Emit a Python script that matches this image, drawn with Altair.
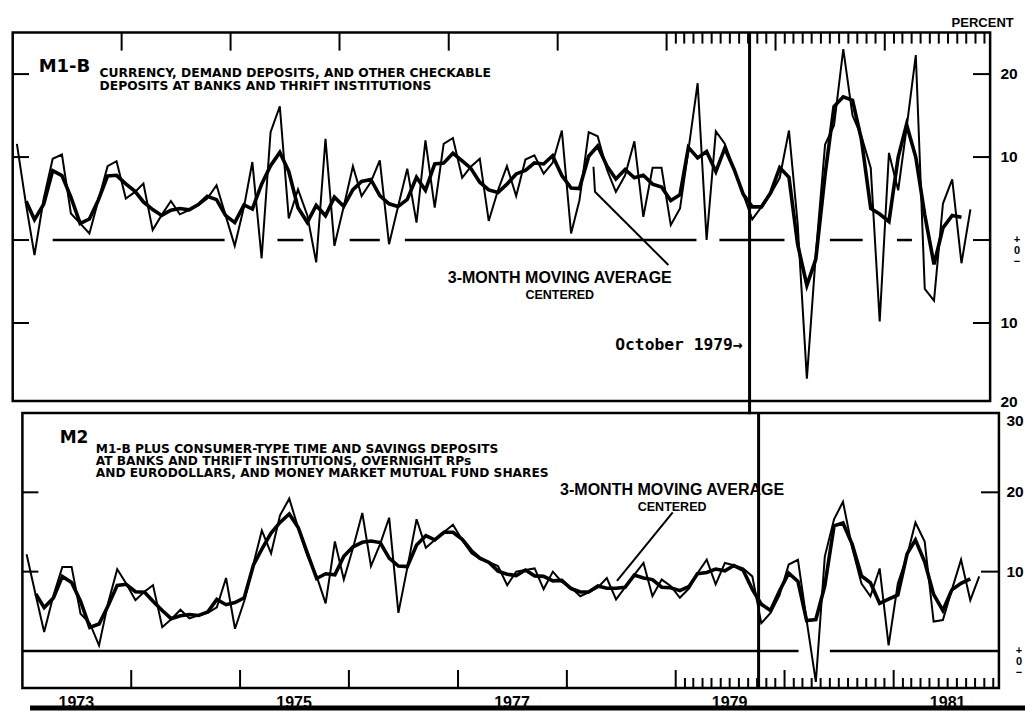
import altair as alt
import pandas as pd

# ------------------------------------------------------------------ data
# Monthly growth rates, annual rate, percent (Jan 1973 .. Oct 1981)
m1b_values = [11.6, 4.2, -1.8, 5.0, 9.8, 10.3, 3.2, 2.0, 0.8, 4.8,
              8.9, 9.5, 5.0, 5.8, 6.8, 1.2, 3.0, 4.7, 3.1, 3.6,
              4.2, 5.0, 6.6, 3.0, -0.7, 4.0, 9.4, -2.2, 13.0, 16.1,
              2.6, 6.1, 3.0, -2.7, 12.2, -0.7, 4.0, 8.9, 5.3, 7.0,
              9.6, -0.5, 4.0, 8.6, 2.1, 12.0, 3.9, 11.6, 12.3, 7.5,
              8.8, 9.8, 2.3, 6.0, 8.9, 5.3, 9.7, 10.2, 8.0, 9.3,
              13.2, 0.8, 4.8, 13.0, 12.5, 8.5, 5.8, 7.8, 11.9, 2.8,
              8.7, 8.7, 1.8, 3.8, 10.8, 18.9, 0.0, 13.1, 11.6, 8.5,
              5.5, 2.5, 4.0, 5.5, 7.5, 13.2, 2.0, -16.7, -1.7, 11.5,
              13.8, 23.0, 15.0, 12.5, 8.7, -9.8, 10.5, 6.0, 13.5, 22.3,
              -5.9, -7.3, 4.4, 7.3, -2.8, 3.7]

m2_values = [12.2, 7.0, 2.4, 7.0, 10.6, 10.6, 4.7, 3.5, 0.7, 6.0,
             10.3, 8.5, 6.4, 7.5, 8.3, 3.0, 4.0, 5.2, 4.1, 4.5,
             4.8, 5.5, 9.2, 2.8, 6.3, 11.0, 15.2, 12.3, 17.1, 19.2,
             15.5, 12.0, 9.4, 6.0, 13.8, 9.0, 13.0, 17.4, 10.7, 13.5,
             16.8, 4.8, 10.5, 16.6, 13.0, 14.0, 15.0, 15.9, 14.0, 12.3,
             11.6, 11.2, 10.7, 8.3, 10.0, 10.2, 10.4, 7.8, 10.0, 8.7,
             8.0, 6.9, 7.4, 8.0, 9.2, 6.5, 8.0, 9.6, 11.1, 6.9,
             9.0, 8.2, 6.7, 7.9, 9.8, 11.5, 8.4, 11.1, 10.8, 10.4,
             9.4, 3.5, 4.8, 7.0, 10.9, 11.5, 3.9, -3.9, 11.9, 16.6,
             18.8, 13.0, 8.5, 6.9, 10.4, 0.7, 8.5, 12.0, 16.2, 13.8,
             3.7, 3.9, 7.7, 11.5, 6.4, 9.4]

first_month = "1973-01-01"
month_dates = (pd.date_range(first_month, periods=len(m1b_values), freq="MS")
               + pd.Timedelta(days=14)).strftime("%Y-%m-%d").tolist()

october_1979 = "1979-10-06"

top_zero_segments = [("1973-05-15", "1974-12-12"), ("1975-06-07", "1975-09-02"),
                     ("1976-02-04", "1976-05-15"), ("1976-08-07", "1979-04-11"),
                     ("1979-06-27", "1980-01-31"), ("1980-07-01", "1980-10-19"),
                     ("1981-02-11", "1981-04-02")]
bottom_zero_segments = [("1973-01-01", "1980-02-17"), ("1980-06-01", "1981-12-20")]

year_boundaries = ["1974-01-01", "1975-01-01", "1976-01-01", "1977-01-01", "1978-01-01",
                   "1979-01-01", "1980-01-01", "1981-01-01"]
month_boundaries = pd.date_range("1979-01-01", "1981-12-01", freq="MS").strftime("%Y-%m-%d").tolist()
month_boundaries = [d for d in month_boundaries if d not in year_boundaries]

year_labels = ["1973", "1975", "1977", "1979", "1981"]
year_label_dates = ["1973-07-01", "1975-07-01", "1977-07-01", "1979-07-01", "1981-07-01"]

top_tick_values = [20, 10, 0, -10]
top_label_values = [20, 10, -10]
top_label_texts = ["20", "10", "10"]
bottom_tick_values = [20, 10]
bottom_label_values = [20, 10]
bottom_label_texts = ["20", "10"]
zero_symbol = "+\n0\n\u2212"

frame_dates = ("1973-01-01", "1981-12-20")
top_domain = [-19.4, 25.0]
bottom_domain = [-4.67, 30.0]

# ------------------------------------------------------------------ scales
W, H = 1017, 703
FONT = "Liberation Sans, Arial, Helvetica, sans-serif"
HEAVY = "DejaVu Sans, Liberation Sans, sans-serif"
MONO = "DejaVu Sans Mono, Liberation Mono, monospace"


def ms(s):
    return int(pd.Timestamp(s, tz="UTC").timestamp() * 1000)


DOMAIN_X = [ms("1973-01-01"), ms("1982-01-01")]
XS = {"top": alt.Scale(type="utc", domain=DOMAIN_X, range=[4.7, 985.7], nice=False),
      "bot": alt.Scale(type="utc", domain=DOMAIN_X, range=[14.4, 994.5], nice=False)}
YS = {"top": alt.Scale(domain=top_domain, range=[393.0, 24.6], zero=False, nice=False),
      "bot": alt.Scale(domain=bottom_domain, range=[680.0, 405.0], zero=False, nice=False)}


def X(panel, field="date"):
    return alt.X(f"{field}:T", scale=XS[panel], axis=None)


def Y(panel, field="v"):
    return alt.Y(f"{field}:Q", scale=YS[panel], axis=None)


layers = []


def series(values, panel):
    df = pd.DataFrame({"date": month_dates, "v": values})
    base = alt.Chart(df)
    thin = base.mark_line(color="black", strokeWidth=2.0).encode(x=X(panel), y=Y(panel))
    ma = (base.transform_window(ma="mean(v)", n="count()", frame=[-1, 1],
                                sort=[alt.SortField("date")])
          .transform_filter("datum.n == 3")
          .mark_line(color="black", strokeWidth=3.6)
          .encode(x=X(panel), y=Y(panel, "ma")))
    return [thin, ma]


def frame(panel, dom):
    df = pd.DataFrame({"date": [frame_dates[0]], "date2": [frame_dates[1]],
                       "v": [dom[1]], "v2": [dom[0]]})
    return alt.Chart(df).mark_rect(fillOpacity=0, stroke="black", strokeWidth=2.5).encode(
        x=X(panel), x2=alt.X2("date2"), y=Y(panel), y2=alt.Y2("v2"))


def zero_line(panel, segs):
    df = pd.DataFrame({"date": [s[0] for s in segs], "date2": [s[1] for s in segs],
                       "v": [0.0] * len(segs)})
    return alt.Chart(df).mark_rule(color="black", strokeWidth=2.5).encode(
        x=X(panel), x2=alt.X2("date2"), y=Y(panel))


def texts(panel, rows, **mk):
    df = pd.DataFrame(rows, columns=["date", "v", "text"])
    props = dict(font=FONT, fontWeight="bold", color="black")
    props.update(mk)
    return alt.Chart(df).mark_text(**props).encode(x=X(panel), y=Y(panel), text="text:N")


def xticks(panel, dates, y0, y1):
    df = pd.DataFrame({"date": dates})
    return alt.Chart(df).mark_rule(color="black", strokeWidth=2).encode(
        x=X(panel), y=alt.value(y0), y2=alt.value(y1))


def yticks(panel, vals, x0, x1):
    df = pd.DataFrame({"v": vals})
    return alt.Chart(df).mark_rule(color="black", strokeWidth=2).encode(
        y=Y(panel), x=alt.value(x0), x2=alt.value(x1))


def ylabels(panel, vals, labels, xpx, **mk):
    df = pd.DataFrame({"v": vals, "text": labels})
    props = dict(font=FONT, fontWeight="bold", fontSize=15.5, align="center",
                 baseline="middle", color="black")
    props.update(mk)
    return alt.Chart(df).mark_text(**props).encode(
        y=Y(panel), x=alt.value(xpx), text="text:N")


# ------------------------------------------------------------------ top panel (M1-B)
layers.append(frame("top", top_domain))
layers.append(zero_line("top", top_zero_segments))
layers += series(m1b_values, "top")
layers.append(xticks("top", year_boundaries, 24.6, 42.6))
layers.append(xticks("top", month_boundaries, 24.6, 35.6))
layers.append(yticks("top", top_tick_values, 4.7, 21.0))
layers.append(yticks("top", top_tick_values, 965.0, 982.1))
layers.append(ylabels("top", top_label_values, top_label_texts, 1001))
layers.append(ylabels("top", [-20], ["20"], 1001, dy=-4))
layers.append(ylabels("top", [0], [zero_symbol], 1009, fontSize=11,
                      lineHeight=11, lineBreak="\n"))

layers.append(texts("top", [("1973-03-29", 20.25, "M1-B")], font=HEAVY, fontSize=18,
                    align="left", baseline="alphabetic"))
layers.append(texts("top", [("1973-10-19", 19.65,
                             "CURRENCY, DEMAND DEPOSITS, AND OTHER CHECKABLE\n"
                             "DEPOSITS AT BANKS AND THRIFT INSTITUTIONS")],
                    font=HEAVY, fontSize=12.3, lineHeight=13, lineBreak="\n",
                    align="left", baseline="alphabetic"))
layers.append(texts("top", [("1978-01-08", -5.18, "3-MONTH MOVING AVERAGE")],
                    fontSize=16, align="center", baseline="alphabetic"))
layers.append(texts("top", [("1978-01-08", -7.05, "CENTERED")],
                    fontSize=12.5, align="center", baseline="alphabetic"))
layers.append(texts("top", [("1979-09-13", -13.26, "October 1979\u2192")],
                    font=MONO, fontSize=16.3, align="right", baseline="alphabetic"))
layers.append(texts("top", [("1981-11-25", 25.67, "PERCENT")],
                    fontSize=13, align="center", baseline="alphabetic"))

top_pointer = pd.DataFrame({"date": ["1978-05-01", "1978-05-06", "1979-01-07"],
                            "v": [8.83, 5.82, -3.01]})
layers.append(alt.Chart(top_pointer).mark_line(color="black", strokeWidth=2).encode(
    x=X("top"), y=Y("top")))

oct_top = pd.DataFrame({"date": [october_1979], "v": [top_domain[1]], "v2": [-21.0]})
layers.append(alt.Chart(oct_top).mark_rule(color="black", strokeWidth=3).encode(
    x=X("top"), y=Y("top"), y2=alt.Y2("v2")))

# ------------------------------------------------------------------ bottom panel (M2)
layers.append(frame("bot", bottom_domain))
layers.append(zero_line("bot", bottom_zero_segments))
layers += series(m2_values, "bot")
layers.append(xticks("bot", year_boundaries, 662.0, 680.0))
layers.append(xticks("bot", month_boundaries, 670.0, 680.0))
layers.append(yticks("bot", bottom_tick_values, 14.4, 30.4))
layers.append(yticks("bot", bottom_tick_values, 973.0, 990.9))
layers.append(ylabels("bot", bottom_label_values, bottom_label_texts, 1007))
layers.append(ylabels("bot", [30], ["30"], 1007, dy=8))
layers.append(ylabels("bot", [0], [zero_symbol], 1011, fontSize=11,
                      lineHeight=11, lineBreak="\n"))

layers.append(texts("bot", [("1973-05-06", 26.22, "M2")], font=HEAVY, fontSize=17,
                    align="left", baseline="alphabetic"))
layers.append(texts("bot", [("1973-09-04", 24.96,
                             "M1-B PLUS CONSUMER-TYPE TIME AND SAVINGS DEPOSITS\n"
                             "AT BANKS AND THRIFT INSTITUTIONS, OVERNIGHT RPs\n"
                             "AND EURODOLLARS, AND MONEY MARKET MUTUAL FUND SHARES")],
                    font=HEAVY, fontSize=12.2, lineHeight=12.2, lineBreak="\n",
                    align="left", baseline="alphabetic"))
layers.append(texts("bot", [("1978-12-20", 19.67, "3-MONTH MOVING AVERAGE")],
                    fontSize=16, align="center", baseline="alphabetic"))
layers.append(texts("bot", [("1978-12-20", 17.65, "CENTERED")],
                    fontSize=12.5, align="center", baseline="alphabetic"))
layers.append(texts("bot", list(zip(year_label_dates, [-7.22] * len(year_labels), year_labels)),
                    fontSize=16, align="center", baseline="alphabetic"))

bottom_pointer = pd.DataFrame({"date": ["1978-06-18", "1978-12-22"], "v": [8.83, 17.46]})
layers.append(alt.Chart(bottom_pointer).mark_line(color="black", strokeWidth=2).encode(
    x=X("bot"), y=Y("bot")))

oct_bot = pd.DataFrame({"date": [october_1979], "v": [bottom_domain[1]], "v2": [bottom_domain[0]]})
layers.append(alt.Chart(oct_bot).mark_rule(color="black", strokeWidth=3).encode(
    x=X("bot"), y=Y("bot"), y2=alt.Y2("v2")))

# page rule at the foot of the sheet
layers.append(alt.Chart(pd.DataFrame({"k": [0]})).mark_rule(color="black", strokeWidth=5).encode(
    x=alt.value(22), x2=alt.value(W), y=alt.value(H - 3)))

chart = (alt.layer(*layers)
         .resolve_scale(x="independent", y="independent")
         .properties(width=W, height=H, padding=0, background="white",
                     autosize=alt.AutoSizeParams(type="none"))
         .configure_view(stroke=None))

chart.save("out.html", embed_options={"renderer": "svg", "actions": False})
